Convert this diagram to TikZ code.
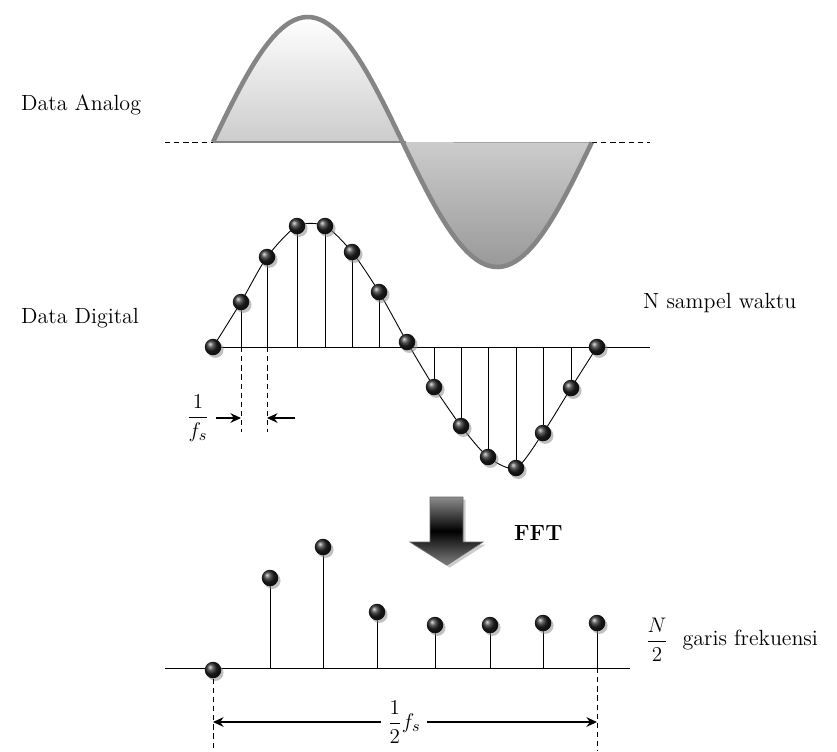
\documentclass[tikz,border=0pt]{standalone}
\usepackage{amsmath}
\usepackage{tikz}
\usetikzlibrary{arrows.meta,shadows,positioning,calc}
\definecolor{WaveGray}{HTML}{858585}
\definecolor{BallDark}{HTML}{222222}

\tikzset{
  sample/.style={circle, inner sep=0pt, minimum size=0.33cm, shading=ball, ball color=BallDark,
    drop shadow={shadow xshift=1.3pt, shadow yshift=-1.5pt, fill=black!45, opacity=0.55}},
  guide/.style={dash pattern=on 3pt off 2.2pt, line width=0.5pt},
  stem/.style={line width=0.5pt},
  dimarrow/.style={-{Stealth[length=6pt, width=5.5pt]}, line width=0.9pt}
}

\begin{document}
\begin{tikzpicture}[x=0.02cm,y=-0.02cm, every node/.style={font=\fontsize{12.5}{15}\selectfont}]
  \useasboundingbox (0,0) rectangle (837,751);

  % analog wave
  \draw[guide] (165,142) -- (213,142);
  \draw[guide] (592,142) -- (650,142);
  \fill[top color=white, bottom color=black!40] plot[domain=0:1, samples=90] ({213+379*\x},{142-125*sin(360*\x)}) -- cycle;
  \draw[WaveGray, line width=1.5pt] (213,142) -- (406,142);
  \draw[WaveGray, line width=2.6pt] plot[domain=0:1, samples=90] ({213+379*\x},{142-125*sin(360*\x)});
  \node[anchor=west] (analog) at (15,105) {Data Analog};

  % digital samples
  \foreach \i/\px/\py in {0/213/347, 1/241/302, 2/267/257, 3/297/226, 4/325/226, 5/352/252, 6/379/292, 7/407/342,
      8/434/387, 9/461/426, 10/488/457, 11/516/468, 12/543/433, 13/571/388, 14/597/347}
    \coordinate (p\i) at (\px,\py);
  \coordinate (dEnd) at (650,347);
  \draw[stem] (p0) -- (dEnd);
  \foreach \i in {1,...,6,8,9,...,13}
    \draw[stem] (p\i) -- (p\i |- p0);
  \draw[stem, smooth, tension=0.45] plot coordinates {(p0) (p1) (p2) (p3) (p4) (p5) (p6) (p7) (p8) (p9) (p10) (p11) (p12) (p13) (p14)};
  \foreach \i in {0,...,14}
    \node[sample] (s\i) at (p\i) {};
  \node[anchor=west] (digital) at (15,318) {Data Digital};
  \node[anchor=west] (nsamp) at (637,303) {N sampel waktu};

  % sampling period
  \draw[guide] (p1 |- p0) -- ++(0,85);
  \draw[guide] (p2 |- p0) -- ++(0,85);
  \node (period) at (198,418) {$\dfrac{1}{f_s}$};
  \draw[dimarrow] (period.east) -- (p1 |- period.east);
  \draw[dimarrow] ($(p2 |- period.east)+(28,0)$) -- (p2 |- period.east);

  % FFT arrow
  \path[draw=black!60, top color=black!45, bottom color=black!50, middle color=black,
    drop shadow={shadow xshift=1.5pt, shadow yshift=-1.5pt, fill=black!40, opacity=0.5}]
    (430,497) -- (463,497) -- (463,542) -- (483,542) -- (447,565) -- (410,542) -- (430,542) -- cycle;
  \node[anchor=west, font=\fontsize{12.5}{15}\selectfont\bfseries] (fft) at (508,533) {FFT};

  % spectrum
  \coordinate (a0) at (165,668);
  \coordinate (a1) at (630,668);
  \coordinate (floor) at (0,751);
  \draw[stem] (a0) -- (a1);
  \foreach \i/\px/\py in {0/213/670, 1/270/578, 2/323/547, 3/377/612, 4/435/625, 5/490/625, 6/543/623, 7/597/623}
    \coordinate (q\i) at (\px,\py);
  \foreach \i in {1,...,7}
    \draw[stem] (q\i) -- (q\i |- a0);
  \foreach \i in {0,...,7}
    \node[sample] (f\i) at (q\i) {};
  \node (halfN) at (657,640) {$\dfrac{N}{2}$};
  \node[right=1pt of halfN] (lines) {garis frekuensi};

  % half sampling frequency
  \draw[guide] (f0.south) -- (f0.south |- floor);
  \draw[guide] (q7 |- a0) -- (q7 |- floor);
  \node (half) at (404,722) {$\dfrac{1}{2}f_s$};
  \draw[dimarrow] (half.west) -- (q0 |- half.west);
  \draw[dimarrow] (half.east) -- (q7 |- half.east);
\end{tikzpicture}
\end{document}
